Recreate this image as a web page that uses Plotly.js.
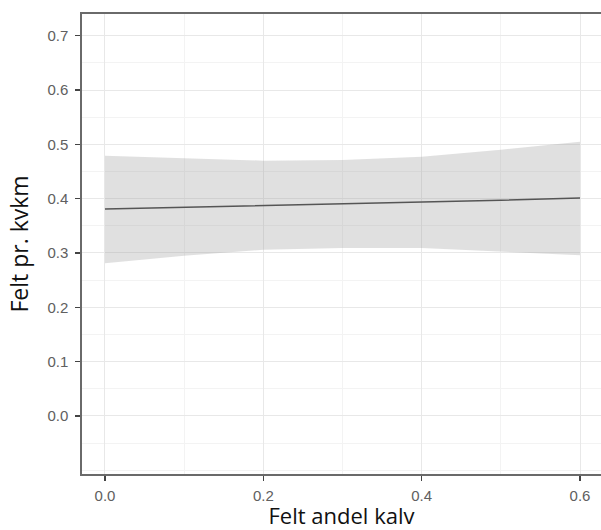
<!DOCTYPE html>
<html>
<head>
<meta charset="utf-8">
<script src="https://cdn.plot.ly/plotly-3.0.1.min.js"></script>
<style>
html, body { margin: 0; padding: 0; overflow: hidden; background: #fff; }
#chart { width: 601px; height: 530px; }
</style>
</head>
<body>
<div id="chart"></div>
<script>
// Data
var xVals = [0.0, 0.1, 0.2, 0.3, 0.4, 0.5, 0.6];
var fitVals = [0.381, 0.384, 0.388, 0.391, 0.394, 0.397, 0.401];
var upperVals = [0.479, 0.474, 0.470, 0.471, 0.477, 0.490, 0.505];
var lowerVals = [0.281, 0.295, 0.306, 0.309, 0.309, 0.303, 0.296];
var xTicks = [0.0, 0.2, 0.4, 0.6];
var xTickLabels = ["0.0", "0.2", "0.4", "0.6"];
var yTicks = [0.0, 0.1, 0.2, 0.3, 0.4, 0.5, 0.6, 0.7];
var yTickLabels = ["0.0", "0.1", "0.2", "0.3", "0.4", "0.5", "0.6", "0.7"];
var xTitle = "Felt andel kalv";
var yTitle = "Felt pr. kvkm";

var traces = [
  {
    x: xVals, y: lowerVals, type: 'scatter', mode: 'lines',
    line: {width: 0, color: 'rgba(0,0,0,0)'}, hoverinfo: 'skip', showlegend: false
  },
  {
    x: xVals, y: upperVals, type: 'scatter', mode: 'lines', fill: 'tonexty',
    fillcolor: 'rgba(153,153,153,0.3)',
    line: {width: 0, color: 'rgba(0,0,0,0)'}, hoverinfo: 'skip', showlegend: false
  },
  {
    x: xVals, y: fitVals, type: 'scatter', mode: 'lines',
    line: {width: 1.5, color: '#555555'}, showlegend: false
  }
];

var tickFont = {family: 'Liberation Sans, Arial, sans-serif', size: 15, color: '#606060'};
var xTitleFont = {family: 'Open Sans, sans-serif', size: 22, color: '#111111'};
var yTitleFont = {family: 'Open Sans, sans-serif', size: 23, color: '#111111'};

var layout = {
  width: 601, height: 530,
  margin: {l: 82, r: 0, t: 14, b: 56},
  paper_bgcolor: '#ffffff', plot_bgcolor: '#ffffff',
  showlegend: false,
  xaxis: {
    range: [-0.029, 0.6265],
    tickvals: xTicks, ticktext: xTickLabels,
    ticks: 'outside', ticklen: 5, tickwidth: 1.5, tickcolor: '#444444',
    tickfont: tickFont, ticklabelstandoff: 2,
    showgrid: true, gridcolor: '#e8e8e8', gridwidth: 1,
    minor: {dtick: 0.1, tick0: 0, showgrid: true, gridcolor: '#f3f3f3', gridwidth: 1},
    showline: true, linecolor: '#6a6a6a', linewidth: 1.6, mirror: true,
    zeroline: false, automargin: false,
    title: {text: xTitle, font: xTitleFont, standoff: 2}
  },
  yaxis: {
    range: [-0.107, 0.74],
    tickvals: yTicks, ticktext: yTickLabels,
    ticks: 'outside', ticklen: 5, tickwidth: 1.5, tickcolor: '#444444',
    tickfont: tickFont, ticklabelstandoff: 4,
    showgrid: true, gridcolor: '#e8e8e8', gridwidth: 1,
    minor: {dtick: 0.05, tick0: 0.05, showgrid: true, gridcolor: '#f3f3f3', gridwidth: 1},
    showline: true, linecolor: '#6a6a6a', linewidth: 1.6, mirror: false,
    zeroline: false, automargin: false,
    title: {text: yTitle, font: yTitleFont, standoff: 12}
  }
};

Plotly.newPlot('chart', traces, layout, {staticPlot: true, displayModeBar: false});
</script>
</body>
</html>
